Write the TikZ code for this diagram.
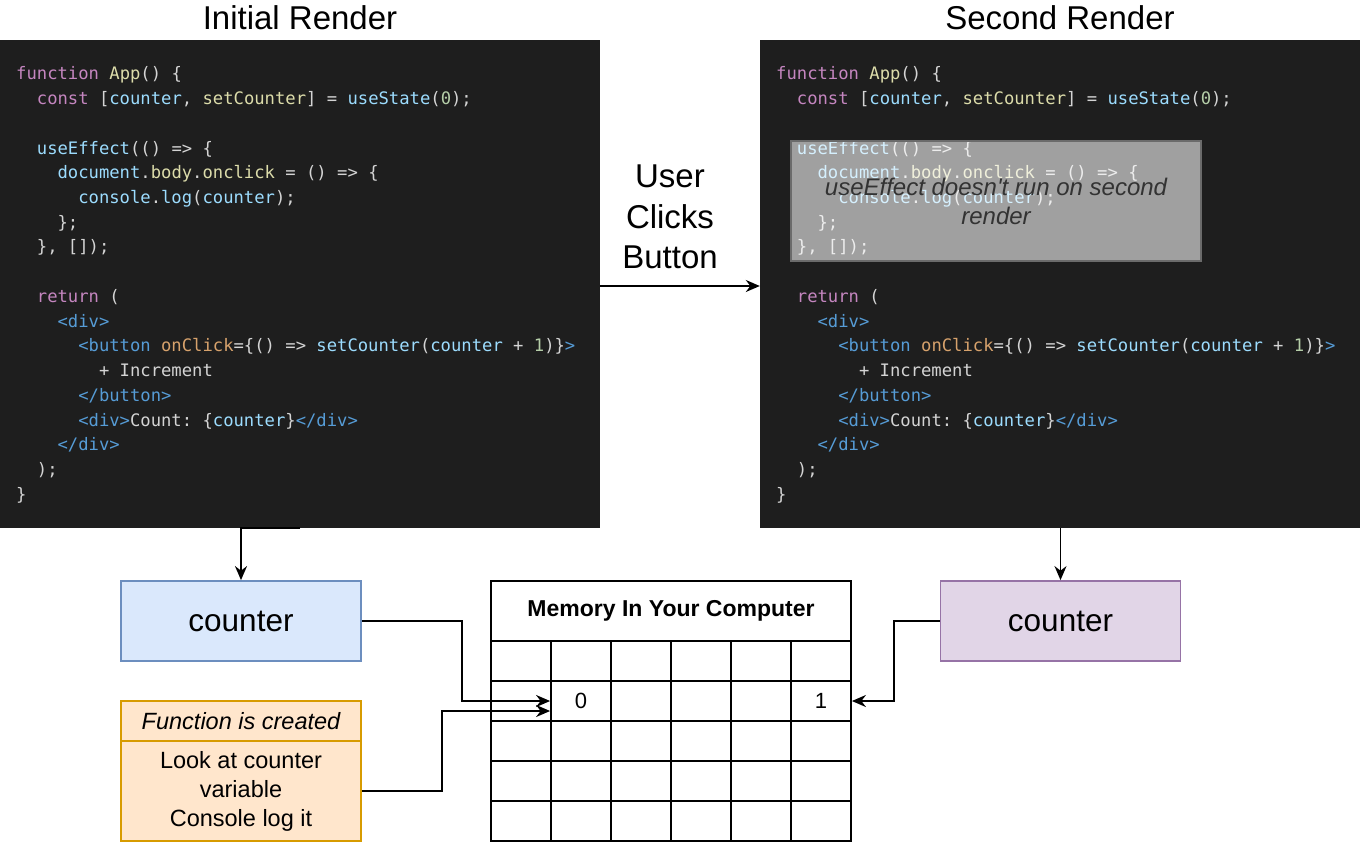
\documentclass[tikz,border=0pt]{standalone}
\usepackage{fontspec}
\setmainfont{Liberation Sans}
\setmonofont{DejaVu Sans Mono}
\usetikzlibrary{arrows.meta}
\definecolor{codebg}{HTML}{1E1E1E}
\definecolor{cdplain}{HTML}{D4D4D4}
\definecolor{cdkw}{HTML}{C586C0}
\definecolor{cdfn}{HTML}{DCDCAA}
\definecolor{cdvar}{HTML}{9CDCFE}
\definecolor{cdnum}{HTML}{B5CEA8}
\definecolor{cdtag}{HTML}{569CD6}
\definecolor{cdattr}{HTML}{D7A26C}
\definecolor{blfill}{HTML}{DAE8FC}\definecolor{bldraw}{HTML}{6C8EBF}
\definecolor{pufill}{HTML}{E1D5E7}\definecolor{pudraw}{HTML}{9673A6}
\definecolor{orfill}{HTML}{FFE6CC}\definecolor{ordraw}{HTML}{D79B00}
\newcommand{\ckw}[1]{\textcolor{cdkw}{#1}}
\newcommand{\cfn}[1]{\textcolor{cdfn}{#1}}
\newcommand{\cvar}[1]{\textcolor{cdvar}{#1}}
\newcommand{\cnum}[1]{\textcolor{cdnum}{#1}}
\newcommand{\ctag}[1]{\textcolor{cdtag}{#1}}
\newcommand{\cattr}[1]{\textcolor{cdattr}{#1}}
\begin{document}
\begin{tikzpicture}[x=1pt,y=-1pt,>={Stealth[length=14pt,width=12pt]},
  codebox/.style={fill=codebg,minimum width=600pt,minimum height=488pt,inner sep=0pt},
  codeline/.style={anchor=base west,inner sep=0pt,text=cdplain,font=\ttfamily\fontsize{17.2}{20}\selectfont\frenchspacing},
  title/.style={font=\fontsize{33}{40.5}\selectfont,align=center},
  varbox/.style={line width=1.8pt,minimum width=240pt,minimum height=80pt,font=\fontsize{31.5}{37}\selectfont},
  fnbox/.style={draw=ordraw,fill=orfill,line width=1.8pt,minimum width=240pt,align=center,font=\fontsize{23.5}{29}\selectfont},
  cell/.style={draw,line width=1.8pt,minimum width=60pt,minimum height=40pt,inner sep=0pt},
  conn/.style={->,line width=1.8pt}]
  \useasboundingbox (0,0) rectangle (1362,844);
  \node[codebox] (codeA) at (300,284) {}; \node[codebox] (codeB) at (1060,284) {};
  \node[title] (titleA) at (300,18) {Initial Render}; \node[title] (titleB) at (1060,18) {Second Render};
  \foreach \ox in {0,760} {
    \node[codeline] (ln0-\ox) at (\ox+16,79.8) {\ckw{function} \cfn{App}() \{};
    \node[codeline] (ln1-\ox) at (\ox+36.7,104.5) {\ckw{const} [\cvar{counter}, \cfn{setCounter}] = \cvar{useState}(\cnum{0});};
    \node[codeline] (ln3-\ox) at (\ox+36.7,154.0) {\cvar{useEffect}(() => \{};
    \node[codeline] (ln4-\ox) at (\ox+57.4,178.7) {\cvar{document}.\cfn{body}.\cfn{onclick} = () => \{};
    \node[codeline] (ln5-\ox) at (\ox+78.1,203.4) {\cvar{console}.\cvar{log}(\cvar{counter});};
    \node[codeline] (ln6-\ox) at (\ox+57.4,228.2) {\};};
    \node[codeline] (ln7-\ox) at (\ox+36.7,252.9) {\}, []);};
    \node[codeline] (ln9-\ox) at (\ox+36.7,302.4) {\ckw{return} (};
    \node[codeline] (ln10-\ox) at (\ox+57.4,327.1) {\ctag{<div>}};
    \node[codeline] (ln11-\ox) at (\ox+78.1,351.8) {\ctag{<button} \cattr{onClick}=\{() => \cvar{setCounter}(\cvar{counter} + \cnum{1})\}\ctag{>}};
    \node[codeline] (ln12-\ox) at (\ox+98.8,376.6) {+ Increment};
    \node[codeline] (ln13-\ox) at (\ox+78.1,401.3) {\ctag{</button>}};
    \node[codeline] (ln14-\ox) at (\ox+78.1,426.0) {\ctag{<div>}Count: \{\cvar{counter}\}\ctag{</div>}};
    \node[codeline] (ln15-\ox) at (\ox+57.4,450.8) {\ctag{</div>}};
    \node[codeline] (ln16-\ox) at (\ox+36.7,475.5) {);};
    \node[codeline] (ln17-\ox) at (\ox+16,500.2) {\}};
  }
  % greyed-out effect on the second render
  \node[fill=white,fill opacity=0.58,draw=black!58,draw opacity=1,line width=1.8pt,minimum width=410pt,minimum height=120pt] (skip) at (996,201) {};
  \node[align=center,text=black!80,font=\itshape\fontsize{24}{29}\selectfont] (skiptxt) at (skip.center) {useEffect doesn\textquotesingle t run on second\\render};
  \draw[conn] ([yshift=-2pt]codeA.east) -- ([yshift=-2pt]codeB.west);
  \node[title] (click) at (670,217) {User\\Clicks\\Button};
  % variables and closure
  \node[varbox,draw=bldraw,fill=blfill] (cntA) at (241,621) {counter};
  \node[varbox,draw=pudraw,fill=pufill] (cntB) at (1060.5,621) {counter};
  \node[fnbox,minimum height=40pt,font=\itshape\fontsize{23.5}{29}\selectfont] (fnhead) at (241,721) {Function is created};
  \node[fnbox,minimum height=100pt] (fnbody) at (241,791) {Look at counter\\variable\\Console log it};
  % memory grid
  \node[draw,line width=1.8pt,minimum width=360pt,minimum height=60pt,font=\bfseries\fontsize{23}{28}\selectfont] (mem) at (671,611) {Memory In Your Computer};
  \foreach \c in {0,...,5} \foreach \r in {0,...,4} \node[cell] (cell-\c-\r) at (521+60*\c,661+40*\r) {};
  \node[font=\fontsize{22}{26}\selectfont] (zero) at (cell-1-1) {0};
  \node[font=\fontsize{22}{26}\selectfont] (one) at (cell-5-1) {1};
  \draw[conn] (codeA.south) -| (cntA.north);
  \draw[conn] (codeB.south -| cntB.north) -- (cntB.north);
  \draw[conn] (cntA.east) -- ++(100,0) |- (cell-1-1.west);
  \draw[conn] (fnbody.east) -- ++(80,0) |- ([yshift=-10pt]cell-1-1.west);
  \draw[conn] (cntB.west) -- ++(-46,0) |- (cell-5-1.east);
\end{tikzpicture}
\end{document}
